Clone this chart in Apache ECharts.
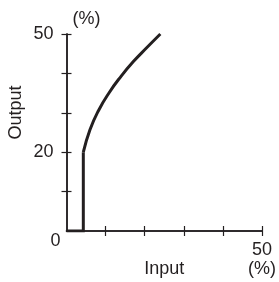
<!DOCTYPE html>
<html>
<head>
<meta charset="utf-8">
<script src="https://cdn.jsdelivr.net/npm/echarts@6/dist/echarts.min.js"></script>
<style>
  html, body { margin: 0; padding: 0; background: #fff; }
  #chart { width: 279px; height: 282px; }
</style>
</head>
<body>
<div id="chart"></div>
<script>
// dead zone part: flat at 0, then jumps to 20
const stepX = [0, 4.3, 4.3]
const stepY = [0, 0, 20]
// rising curve
const curveX = [4.3, 6.0, 8.2, 10.9, 13.9, 17.1, 20.5, 24.0]
const curveY = [20, 25.7, 30.6, 35.1, 39.2, 43.0, 46.5, 50.0]
// ticks and labels
const xTicks = [10, 20, 30, 40, 50]
const yTicks = [10, 20, 30, 40, 50]
const xLabels = [50]
const yLabels = [0, 20, 50]

const ink = '#231f20'
const font = 'Liberation Sans, Arial, sans-serif'

const chart = echarts.init(document.getElementById('chart'))

const axisBase = {
  type: 'value',
  min: 0,
  max: 50,
  splitLine: { show: false },
  nameMoveOverlap: false,
  axisLine: { show: true, onZero: false, lineStyle: { color: ink, width: 1.5 } }
}

chart.setOption({
  animation: false,
  grid: { left: 66.5, top: 34, width: 195.5, height: 197, outerBoundsMode: 'none', containLabel: false },
  xAxis: [
    {
      ...axisBase,
      position: 'bottom',
      name: 'Input',
      nameLocation: 'middle',
      nameGap: 29,
      nameTextStyle: { color: ink, fontSize: 18, fontFamily: font },
      axisTick: { show: true, inside: false, length: 5, customValues: xTicks, lineStyle: { color: ink, width: 1.2 } },
      axisLabel: {
        customValues: xLabels,
        formatter: v => v + '\n(%)',
        color: ink,
        fontSize: 18,
        fontFamily: font,
        lineHeight: 19.5,
        margin: 9
      }
    },
    {
      ...axisBase,
      position: 'bottom',
      axisTick: { show: true, inside: true, length: 5, customValues: xTicks, lineStyle: { color: ink, width: 1.2 } },
      axisLabel: { show: false }
    }
  ],
  yAxis: [
    {
      ...axisBase,
      position: 'left',
      name: 'Output',
      nameLocation: 'middle',
      nameGap: 41,
      nameTextStyle: { color: ink, fontSize: 18, fontFamily: font, padding: [0, 0, 0, 40] },
      axisTick: { show: true, inside: false, length: 5, customValues: yTicks, lineStyle: { color: ink, width: 1.2 } },
      axisLabel: {
        customValues: yLabels,
        formatter: v => v === 0 ? '{z|0}' : '{n|' + v + '}',
        color: ink,
        fontSize: 18,
        fontFamily: font,
        margin: 6,
        rich: {
          z: { padding: [20, 0, 0, 0], fontSize: 18, fontFamily: font, color: ink },
          n: { padding: [0, 7, 0, 0], fontSize: 18, fontFamily: font, color: ink }
        }
      }
    },
    {
      ...axisBase,
      position: 'left',
      name: '(%)',
      nameLocation: 'end',
      nameGap: 15,
      nameTextStyle: { color: ink, fontSize: 18, fontFamily: font, align: 'center', verticalAlign: 'middle', padding: [0, 0, 0, 40] },
      axisTick: { show: true, inside: true, length: 5, customValues: yTicks, lineStyle: { color: ink, width: 1.2 } },
      axisLabel: { show: false }
    }
  ],
  series: [
    {
      type: 'line',
      data: stepX.map((x, i) => [x, stepY[i]]),
      symbol: 'none',
      lineStyle: { color: ink, width: 3, join: 'miter' }
    },
    {
      type: 'line',
      data: curveX.map((x, i) => [x, curveY[i]]),
      symbol: 'none',
      smooth: 0.5,
      lineStyle: { color: ink, width: 3 }
    }
  ]
})
</script>
</body>
</html>
